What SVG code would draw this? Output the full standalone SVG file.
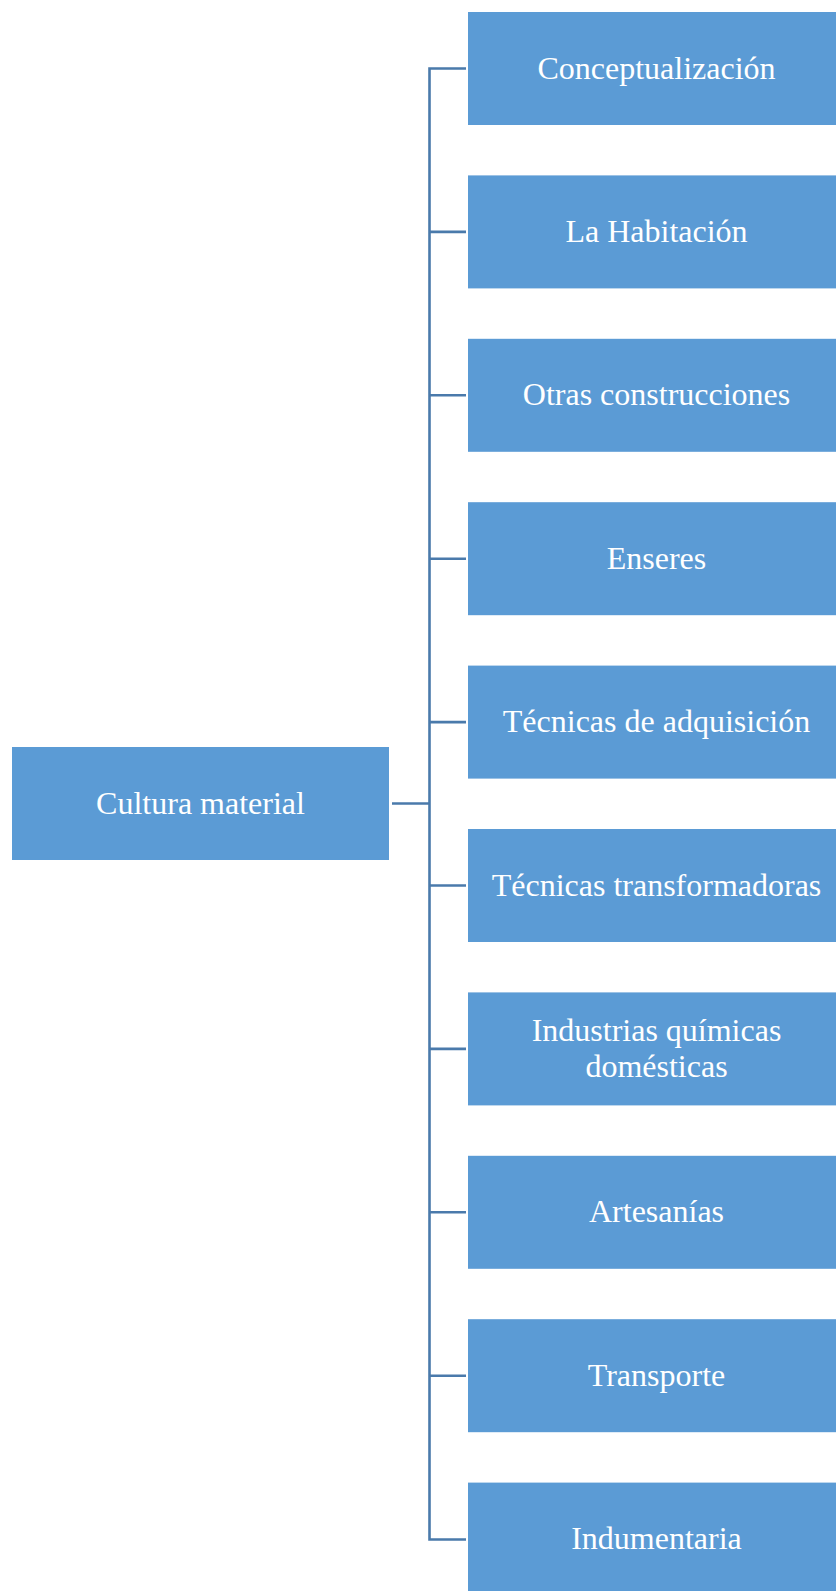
<svg xmlns="http://www.w3.org/2000/svg" width="836" height="1591" viewBox="0 0 836 1591">
<style>
.box{fill:#5B9BD5;}
.t{fill:#FFFFFF;font-family:"Liberation Serif","Times New Roman",serif;font-size:32px;text-anchor:middle;}
.c{fill:none;stroke:#4A7AAB;stroke-width:2.6;}
</style>
<rect width="836" height="1591" fill="#FFFFFF"/>
<g id="connectors">
<path class="c" d="M392 803.5 H429.5"/>
<path class="c" d="M466 68.5 H429.5 V1539.5 H466"/>
<path class="c" d="M429.5 231.9 H466"/>
<path class="c" d="M429.5 395.3 H466"/>
<path class="c" d="M429.5 558.7 H466"/>
<path class="c" d="M429.5 722.1 H466"/>
<path class="c" d="M429.5 885.5 H466"/>
<path class="c" d="M429.5 1048.9 H466"/>
<path class="c" d="M429.5 1212.3 H466"/>
<path class="c" d="M429.5 1375.7 H466"/>
</g>
<g id="root">
<rect class="box" x="12" y="747" width="377" height="113"/>
<text class="t" x="200.5" y="813.5">Cultura material</text>
</g>
<g id="n1">
<rect class="box" x="468" y="12" width="377" height="113"/>
<text class="t" x="656.5" y="78.5">Conceptualización</text>
</g>
<g id="n2">
<rect class="box" x="468" y="175.4" width="377" height="113"/>
<text class="t" x="656.5" y="241.9">La Habitación</text>
</g>
<g id="n3">
<rect class="box" x="468" y="338.8" width="377" height="113"/>
<text class="t" x="656.5" y="405.3">Otras construcciones</text>
</g>
<g id="n4">
<rect class="box" x="468" y="502.2" width="377" height="113"/>
<text class="t" x="656.5" y="568.7">Enseres</text>
</g>
<g id="n5">
<rect class="box" x="468" y="665.6" width="377" height="113"/>
<text class="t" x="656.5" y="732.1">Técnicas de adquisición</text>
</g>
<g id="n6">
<rect class="box" x="468" y="829" width="377" height="113"/>
<text class="t" x="656.5" y="895.5">Técnicas transformadoras</text>
</g>
<g id="n7">
<rect class="box" x="468" y="992.4" width="377" height="113"/>
<text class="t" x="656.5" y="1041">Industrias químicas</text>
<text class="t" x="656.5" y="1076.5">domésticas</text>
</g>
<g id="n8">
<rect class="box" x="468" y="1155.8" width="377" height="113"/>
<text class="t" x="656.5" y="1222.3">Artesanías</text>
</g>
<g id="n9">
<rect class="box" x="468" y="1319.2" width="377" height="113"/>
<text class="t" x="656.5" y="1385.7">Transporte</text>
</g>
<g id="n10">
<rect class="box" x="468" y="1482.6" width="377" height="113"/>
<text class="t" x="656.5" y="1549.1">Indumentaria</text>
</g>
</svg>
